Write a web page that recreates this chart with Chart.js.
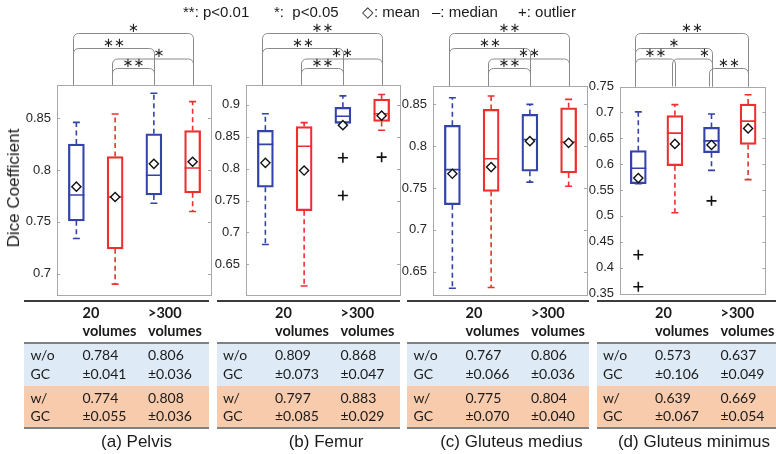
<!DOCTYPE html>
<html><head><meta charset="utf-8">
<script src="https://cdn.jsdelivr.net/npm/chart.js@4"></script>
<style>
html,body{margin:0;padding:0;background:#fff;}
#fig{position:relative;width:776px;height:454px;overflow:hidden;font-family:"Liberation Sans",Arial,sans-serif;color:#1a1a1a;}
#fig canvas{position:absolute;left:0;top:0;}
.t{position:absolute;white-space:nowrap;}
.hl{position:absolute;}
</style></head><body><div id="fig"></div>
<script>
// ---------- data ----------
const groupLabels = ['w/o GC, 20 volumes', 'w/ GC, 20 volumes', 'w/o GC, >300 volumes', 'w/ GC, >300 volumes'];
const panelNames = ['(a) Pelvis', '(b) Femur', '(c) Gluteus medius', '(d) Gluteus minimus'];

const pelvisMin  = [0.734, 0.690, 0.768, 0.760];
const pelvisQ1   = [0.751, 0.724, 0.776, 0.778];
const pelvisMed  = [0.776, 0.774, 0.795, 0.802];
const pelvisQ3   = [0.825, 0.813, 0.835, 0.838];
const pelvisMax  = [0.846, 0.854, 0.874, 0.866];
const pelvisMean = [0.784, 0.774, 0.806, 0.808];
const pelvisStd  = [0.041, 0.055, 0.036, 0.036];
const pelvisOutliers = [];
const pelvisTicks = [0.7, 0.75, 0.8, 0.85];
const pelvisRange = [0.68, 0.882];
const pelvisBrackets = [[0, 3, 1, '*'], [0, 2, 2, '**'], [1, 3, 3, '*'], [1, 2, 4, '**']];

const femurMin  = [0.681, 0.616, 0.871, 0.860];
const femurQ1   = [0.771, 0.734, 0.871, 0.874];
const femurMed  = [0.838, 0.835, 0.882, 0.886];
const femurQ3   = [0.860, 0.866, 0.896, 0.909];
const femurMax  = [0.886, 0.872, 0.914, 0.916];
const femurMean = [0.809, 0.797, 0.868, 0.883];
const femurStd  = [0.073, 0.085, 0.047, 0.029];
const femurOutliers = [[2, 0.817], [2, 0.758], [3, 0.818]];
const femurTicks = [0.65, 0.7, 0.75, 0.8, 0.85, 0.9];
const femurRange = [0.602, 0.931];
const femurBrackets = [[0, 3, 1, '**'], [0, 2, 2, '**'], [1, 3, 3, '**'], [1, 2, 4, '**']];

const gmedMin  = [0.630, 0.631, 0.757, 0.752];
const gmedQ1   = [0.730, 0.746, 0.770, 0.768];
const gmedMed  = [0.772, 0.785, 0.808, 0.805];
const gmedQ3   = [0.825, 0.844, 0.838, 0.846];
const gmedMax  = [0.858, 0.860, 0.850, 0.856];
const gmedMean = [0.767, 0.775, 0.806, 0.804];
const gmedStd  = [0.066, 0.070, 0.036, 0.040];
const gmedOutliers = [];
const gmedTicks = [0.65, 0.7, 0.75, 0.8, 0.85];
const gmedRange = [0.622, 0.872];
const gmedBrackets = [[0, 3, 1, '**'], [0, 2, 2, '**'], [1, 3, 3, '**'], [1, 2, 4, '**']];

const gminMin  = [0.562, 0.506, 0.588, 0.570];
const gminQ1   = [0.562, 0.597, 0.622, 0.638];
const gminMed  = [0.592, 0.660, 0.645, 0.683];
const gminQ3   = [0.626, 0.694, 0.671, 0.716];
const gminMax  = [0.701, 0.715, 0.697, 0.734];
const gminMean = [0.573, 0.639, 0.637, 0.669];
const gminStd  = [0.106, 0.067, 0.049, 0.054];
const gminOutliers = [[0, 0.425], [0, 0.363], [2, 0.529]];
const gminTicks = [0.35, 0.4, 0.45, 0.5, 0.55, 0.6, 0.65, 0.7, 0.75];
const gminRange = [0.35, 0.75];
const gminBrackets = [[0, 3, 1, '**'], [0, 2, 2, '*'], [0, 1, 3, '**'], [1, 2, 3, '*'], [2, 3, 4, '**']];

const tableHeaders = [['20', 'volumes'], ['>300', 'volumes']];
const tableRowLabels = [['w/o', 'GC'], ['w/', 'GC']];
const legendItems = ['**: p<0.01', '*:\u00a0\u00a0p<0.05', '\u25c7: mean', '\u2013: median', '+: outlier'];

// ---------- layout / style ----------
const BLUE = '#3343a8', RED = '#ec2f2f';
const boxColors = [BLUE, RED, BLUE, RED];
const bracketLevelY = {1: 33, 2: 48, 3: 58.5, 4: 68};
const panels = [
  {min: pelvisMin, q1: pelvisQ1, med: pelvisMed, q3: pelvisQ3, max: pelvisMax, mean: pelvisMean, std: pelvisStd, out: pelvisOutliers, ticks: pelvisTicks, range: pelvisRange, br: pelvisBrackets,
   L: 57, R: 212, T: 85, B: 294.5, tabL: 24, tabR: 209, capX: 136.5, textDx: {2: 6}},
  {min: femurMin, q1: femurQ1, med: femurMed, q3: femurQ3, max: femurMax, mean: femurMean, std: femurStd, out: femurOutliers, ticks: femurTicks, range: femurRange, br: femurBrackets,
   L: 246, R: 401, T: 85, B: 295, tabL: 216.5, tabR: 400, capX: 326, textDx: {}},
  {min: gmedMin, q1: gmedQ1, med: gmedMed, q3: gmedQ3, max: gmedMax, mean: gmedMean, std: gmedStd, out: gmedOutliers, ticks: gmedTicks, range: gmedRange, br: gmedBrackets,
   L: 433, R: 588, T: 86, B: 295, tabL: 407, tabR: 589, capX: 511.5, textDx: {}},
  {min: gminMin, q1: gminQ1, med: gminMed, q3: gminQ3, max: gminMax, mean: gminMean, std: gminStd, out: gminOutliers, ticks: gminTicks, range: gminRange, br: gminBrackets,
   L: 620, R: 774, T: 86.5, B: 293.5, tabL: 596.5, tabR: 776, capX: 694, textDx: {3: 12}}
];

const fig = document.getElementById('fig');
const W = 776, H = 454;

function addText(txt, left, cy, font, extra) {
  const d = document.createElement('div');
  d.className = 't';
  d.textContent = txt;
  d.style.left = left + 'px';
  d.style.top = (cy - 10) + 'px';
  d.style.lineHeight = '20px';
  d.style.font = font;
  if (extra) Object.assign(d.style, extra);
  fig.appendChild(d);
  return d;
}
function addRect(l, t, w, h, bg) {
  const d = document.createElement('div');
  d.className = 'hl';
  Object.assign(d.style, {left: l + 'px', top: t + 'px', width: w + 'px', height: h + 'px', background: bg});
  fig.appendChild(d);
}

function makePanel(p, idx) {
  const cv = document.createElement('canvas');
  cv.width = W; cv.height = H;
  cv.style.width = W + 'px'; cv.style.height = H + 'px';
  fig.appendChild(cv);
  const YW = 45;
  const deco = {
    id: 'deco' + idx,
    beforeDatasetsDraw(chart) {
      const {ctx, chartArea: a, scales: {x, y}} = chart;
      ctx.save();
      ctx.strokeStyle = '#a8a8a8'; ctx.lineWidth = 1;
      ctx.strokeRect(Math.round(a.left) + 0.5, Math.round(a.top) + 0.5, Math.round(a.right - a.left) - 1, Math.round(a.bottom - a.top));
      ctx.beginPath();
      p.ticks.forEach(v => {
        const py = Math.round(y.getPixelForValue(v)) + 0.5;
        ctx.moveTo(a.left, py); ctx.lineTo(a.left + 3, py);
        ctx.moveTo(a.right - 1, py); ctx.lineTo(a.right - 4, py);
      });
      ctx.stroke();
      ctx.lineWidth = 1.6; ctx.setLineDash([5, 3.5]);
      groupLabels.forEach((g, i) => {
        const px = x.getPixelForValue(i);
        ctx.strokeStyle = boxColors[i];
        ctx.beginPath();
        ctx.moveTo(px, y.getPixelForValue(p.q3[i])); ctx.lineTo(px, y.getPixelForValue(p.max[i]));
        ctx.moveTo(px, y.getPixelForValue(p.q1[i])); ctx.lineTo(px, y.getPixelForValue(p.min[i]));
        ctx.stroke();
      });
      ctx.restore();
    },
    afterDraw(chart) {
      const {ctx, chartArea: a, scales: {x}} = chart;
      ctx.save();
      ctx.strokeStyle = '#8a8a8a'; ctx.lineWidth = 1;
      const r = 5;
      p.br.forEach((b, k) => {
        const x1 = Math.round(x.getPixelForValue(b[0])) - 2.5, x2 = Math.round(x.getPixelForValue(b[1])) + 0.5;
        const yl = bracketLevelY[b[2]] + 0.5, yb = a.top;
        ctx.beginPath();
        ctx.moveTo(x1, yb); ctx.lineTo(x1, yl + r);
        ctx.arcTo(x1, yl, x1 + r, yl, r);
        ctx.lineTo(x2 - r, yl);
        ctx.arcTo(x2, yl, x2, yl + r, r);
        ctx.lineTo(x2, yb);
        ctx.stroke();
        const tx = (x1 + x2) / 2 + (p.textDx[k] || 0);
        ctx.fillStyle = '#222';
        ctx.font = '13px "DejaVu Sans"';
        ctx.textAlign = 'center'; ctx.textBaseline = 'middle';
        ctx.fillText(b[3].replace(/\*/g, '\u2217'), tx, yl - 5);
      });
      ctx.restore();
    }
  };
  new Chart(cv, {
    type: 'bar',
    data: {
      labels: groupLabels,
      datasets: [
        {type: 'bar', data: p.q1.map((v, i) => [v, p.q3[i]]), backgroundColor: 'rgba(0,0,0,0)', borderColor: boxColors,
         borderWidth: 1.6, borderSkipped: false, barThickness: 16, order: 5},
        {type: 'line', data: p.med, showLine: false, pointStyle: 'line', pointRadius: 8, pointBorderColor: boxColors, pointBorderWidth: 1.6, order: 4},
        {type: 'line', data: p.max, showLine: false, pointStyle: 'line', pointRadius: 3.5, pointBorderColor: boxColors, pointBorderWidth: 1.6, order: 4},
        {type: 'line', data: p.min, showLine: false, pointStyle: 'line', pointRadius: 3.5, pointBorderColor: boxColors, pointBorderWidth: 1.6, order: 4},
        {type: 'line', data: p.out.map(o => ({x: groupLabels[o[0]], y: o[1]})), showLine: false, pointStyle: 'cross', pointRadius: 5,
         pointBorderColor: '#111', pointBorderWidth: 1.6, order: 1},
        {type: 'line', data: p.mean, showLine: false, pointStyle: 'rectRot', pointRadius: 4.6, pointBackgroundColor: '#fff',
         pointBorderColor: '#111', pointBorderWidth: 1.4, order: 0}
      ]
    },
    options: {
      responsive: false, animation: false, events: [],
      layout: {padding: {left: p.L - YW, right: W - p.R, top: p.T, bottom: H - p.B}},
      plugins: {legend: {display: false}, tooltip: {enabled: false}, title: {display: false}},
      scales: {
        x: {type: 'category', display: false, offset: true, grid: {display: false}},
        y: {
          type: 'linear', min: p.range[0], max: p.range[1],
          afterFit: s => { s.width = YW; },
          afterBuildTicks: s => { s.ticks = p.ticks.map(v => ({value: v})); },
          grid: {display: false, drawTicks: false}, border: {display: false},
          ticks: {font: {family: '"Liberation Sans", Arial', size: 13}, color: '#262626', padding: 6,
                  callback: v => String(+Number(v).toFixed(2))}
        }
      }
    },
    plugins: [deco]
  });

  // ---------- table ----------
  const tl = p.tabL, tw = p.tabR - p.tabL;
  const colX = [6.5, 58.5, 124];
  addRect(tl, 343.5, tw, 42.5, '#deebf7');
  addRect(tl, 386, tw, 41, '#f8cbad');
  addRect(tl, 300, tw, 1.6, '#3c3c3c');
  addRect(tl, 342, tw, 1.6, '#808080');
  addRect(tl, 427, tw, 1.6, '#808080');
  const tf = '14px Lato, "Open Sans", sans-serif';
  const tfb = 'bold 14.5px Lato, "Open Sans", sans-serif';
  tableHeaders.forEach((h, c) => {
    addText(h[0], tl + colX[c + 1], 313.5, tfb);
    addText(h[1], tl + colX[c + 1], 332, tfb);
  });
  tableRowLabels.forEach((rl, r) => {
    const y1 = r === 0 ? 356 : 398.5, y2 = r === 0 ? 374.5 : 416.5;
    addText(rl[0], tl + colX[0], y1, tf);
    addText(rl[1], tl + colX[0], y2, tf);
    [0, 1].forEach(c => {
      const gi = c * 2 + r;
      addText(p.mean[gi].toFixed(3), tl + colX[c + 1], y1, tf);
      addText('\u00b1' + p.std[gi].toFixed(3), tl + colX[c + 1], y2, tf);
    });
  });
  addText(panelNames[idx], p.capX, 442, '17px "Liberation Sans", Arial, sans-serif', {transform: 'translateX(-50%)'});
}

panels.forEach(makePanel);

// ---------- legend + y title ----------
const legendX = [183, 274, 362, 432, 518];
legendItems.forEach((s, i) => addText(s, legendX[i], 12.5, '15px "Liberation Sans", Arial, sans-serif', {color: '#1a1a1a'}));
addText('Dice Coefficient', 14, 188, '17px "Liberation Sans", Arial, sans-serif', {transform: 'translate(-50%,0) rotate(-90deg)', transformOrigin: '50% 50%'});
</script></body></html>
